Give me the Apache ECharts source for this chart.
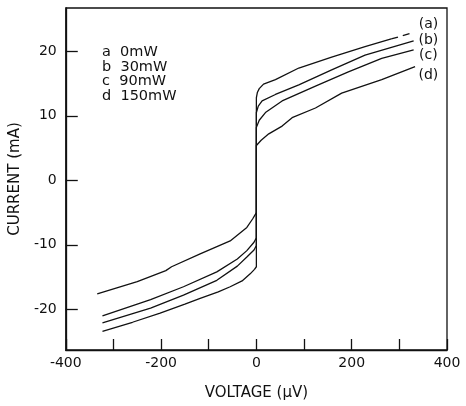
<!DOCTYPE html>
<html><head><meta charset="utf-8">
<script src="https://cdn.jsdelivr.net/npm/echarts@6/dist/echarts.min.js"></script>
<style>html,body{margin:0;padding:0;background:#fff}#c{width:466px;height:406px}</style>
</head><body><div id="c"></div>
<script>
// Voltage (µV), Current (mA)
const curveA = [[-323,-23.4],[-260,-22.0],[-202,-20.6],[-150,-19.2],[-118,-18.3],[-80,-17.3],[-55,-16.5],[-30,-15.6],[-13,-14.5],[-4,-13.8],[0,-13.4],[0,12.8],[2,13.6],[6,14.2],[15,14.9],[40,15.6],[89,17.4],[158,19.1],[228,20.7],[283,21.9]];
const curveATail = [[283,21.9],[325,22.8]];
const curveB = [[-323,-22.1],[-222,-19.8],[-153,-17.8],[-83,-15.5],[-40,-13.3],[-20,-11.9],[-5,-10.8],[0,-10.1],[0,10.5],[4,11.5],[12,12.3],[40,13.3],[89,14.8],[158,17.1],[228,19.4],[330,21.6]];
const curveC = [[-323,-21.0],[-222,-18.5],[-153,-16.5],[-83,-14.2],[-40,-12.2],[-20,-10.9],[-5,-9.6],[0,-8.9],[0,8.2],[6,9.3],[19,10.5],[54,12.3],[124,14.6],[193,16.8],[263,18.9],[330,20.2]];
const curveD = [[-334,-17.6],[-250,-15.7],[-190,-14.0],[-178,-13.4],[-118,-11.4],[-55,-9.4],[-20,-7.3],[-8,-6.0],[0,-5.0],[0,5.4],[10,6.2],[26,7.2],[54,8.4],[75,9.7],[124,11.2],[179,13.5],[263,15.6],[333,17.6]];
const curveTags = ['(a)','(b)','(c)','(d)'];
const tagPos = [[361,24.2],[361,21.7],[361,19.4],[361,16.3]];
const legendLines = ['a  0mW','b  30mW','c  90mW','d  150mW'];
const yTicks = [-20,-10,0,10,20];

const FONT = 'DejaVu Sans';
const chart = echarts.init(document.getElementById('c'), null, {renderer:'canvas'});
const lineSeries = (data, dashed) => ({
  type:'line', data, symbol:'none', silent:true, animation:false,
  lineStyle:{color:'#111', width:1.3, type: dashed ? [7,5] : 'solid'}
});
chart.setOption({
  animation:false,
  backgroundColor:'#fff',
  grid:{left:65, right:19, top:8, bottom:52, show:true, borderColor:'#111', borderWidth:1.3, backgroundColor:'transparent'},
  xAxis:{
    type:'value', min:-400, max:400, interval:100,
    name:'VOLTAGE (\u03BCV)', nameLocation:'middle', nameGap:36,
    nameTextStyle:{fontFamily:FONT, fontSize:15, color:'#111'},
    axisLine:{onZero:false, lineStyle:{color:'#111', width:1.3}},
    axisTick:{inside:true, length:11, lineStyle:{color:'#111', width:1.3}},
    axisLabel:{margin:6, fontFamily:FONT, fontSize:14, color:'#111',
      formatter:v => (v % 200 === 0 ? String(v) : '')},
    splitLine:{show:false}
  },
  yAxis:{
    type:'value', min:-26.3, max:26.7,
    name:'CURRENT (mA)', nameLocation:'middle', nameGap:36,
    nameTextStyle:{fontFamily:FONT, fontSize:15, color:'#111'},
    axisLine:{show:true, onZero:false, lineStyle:{color:'#111', width:1.3}},
    axisTick:{inside:true, length:12, customValues:yTicks, lineStyle:{color:'#111', width:1.3}},
    axisLabel:{margin:9, fontFamily:FONT, fontSize:14, color:'#111', customValues:yTicks},
    splitLine:{show:false}
  },
  graphic:[{
    type:'text', left:102, top:45,
    style:{text:legendLines.join('\n'), fontFamily:FONT, fontSize:14.5, lineHeight:14.6, fill:'#111'}
  }],
  series:[
    lineSeries(curveA), lineSeries(curveATail, true),
    lineSeries(curveB), lineSeries(curveC), lineSeries(curveD),
    {type:'scatter', symbolSize:1, itemStyle:{opacity:0}, silent:true,
     data:tagPos.map((p,i)=>({value:p, name:curveTags[i]})),
     label:{show:true, position:'inside', formatter:p=>p.name, fontFamily:FONT, fontSize:14,
       color:'#111', textBorderWidth:0, opacity:1}}
  ]
});
</script></body></html>
